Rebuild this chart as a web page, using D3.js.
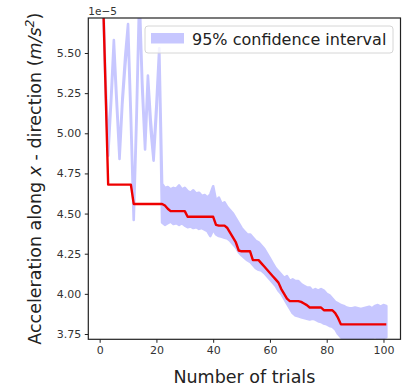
<!DOCTYPE html>
<html>
<head>
<meta charset="utf-8">
<script src="https://cdn.jsdelivr.net/npm/d3@7"></script>
<style>
  body { margin: 0; background: #fff; }
  text { font-family: "DejaVu Sans", sans-serif; }
</style>
</head>
<body>
<script>
// values in units of 1e-5 m/s^2, trial t = 1..101
const trials = d3.range(1, 102);

const best = [5.98, 5.33,
  4.68, 4.68, 4.68, 4.68, 4.68, 4.68, 4.68, 4.68, 4.68,
  4.56, 4.56, 4.56, 4.56, 4.56, 4.56, 4.56, 4.56, 4.56, 4.56, 4.56,
  4.55, 4.53, 4.515, 4.515, 4.515, 4.515, 4.515, 4.515,
  4.48, 4.48, 4.48, 4.48, 4.48, 4.48, 4.48, 4.48, 4.48, 4.48,
  4.43, 4.425, 4.425, 4.425, 4.41, 4.38, 4.35, 4.32, 4.27,
  4.265, 4.265, 4.265, 4.265, 4.21, 4.21, 4.21,
  4.19, 4.17, 4.15, 4.13, 4.11, 4.09, 4.07, 4.03, 4.0, 3.97,
  3.955, 3.955, 3.955, 3.955, 3.95, 3.94, 3.93,
  3.915, 3.915, 3.915, 3.915, 3.915, 3.898, 3.898, 3.898, 3.898,
  3.88, 3.85,
  3.81, 3.81, 3.81, 3.81, 3.81, 3.81, 3.81, 3.81, 3.81, 3.81, 3.81, 3.81, 3.81, 3.81, 3.81, 3.81, 3.81];

const upper = [6.0, 5.37, 4.92, 5.22, 5.58, 5.22, 4.88, 5.22, 5.48, 5.68,
  5.13, 4.5, 5.13, 5.88, 5.33, 4.94, 5.36, 5.08, 4.87, 5.18, 5.53,
  4.685, 4.66, 4.665, 4.65, 4.66, 4.655, 4.675, 4.65, 4.66,
  4.64, 4.63, 4.645, 4.625, 4.63, 4.61, 4.615, 4.6, 4.62, 4.67,
  4.58, 4.6, 4.56, 4.57, 4.54, 4.52, 4.5, 4.47, 4.44, 4.41,
  4.39, 4.37, 4.37, 4.35, 4.33, 4.32, 4.30, 4.28, 4.25, 4.22,
  4.19, 4.16, 4.14, 4.12, 4.1, 4.11, 4.08, 4.09, 4.08, 4.08,
  4.06, 4.05, 4.04, 4.04, 4.02, 4.03, 4.02, 4.03, 4.02, 4.0,
  3.99, 3.97, 3.95, 3.94, 3.93, 3.925, 3.915, 3.91, 3.91, 3.915,
  3.91, 3.905, 3.91, 3.915, 3.92, 3.91, 3.925, 3.93, 3.92, 3.93, 3.925];

const lower = [5.96, 5.33, 4.86, 5.18, 5.52, 5.18, 4.84, 5.18, 5.42, 5.62,
  5.07, 4.46, 5.07, 5.82, 5.27, 4.9, 5.3, 5.02, 4.83, 5.12, 5.49,
  4.445, 4.43, 4.44, 4.45, 4.435, 4.44, 4.43, 4.44, 4.425,
  4.415, 4.42, 4.41, 4.415, 4.405, 4.41, 4.4, 4.39, 4.36, 4.40,
  4.37, 4.36, 4.355, 4.35, 4.345, 4.33, 4.31, 4.29, 4.26, 4.24,
  4.225, 4.21, 4.2, 4.18, 4.16, 4.15, 4.145, 4.13, 4.11, 4.09,
  4.07, 4.05, 4.02, 4.0, 3.97, 3.94, 3.91, 3.88, 3.865, 3.86,
  3.855, 3.85, 3.845, 3.84, 3.845, 3.84, 3.83, 3.825, 3.815, 3.81,
  3.80, 3.795, 3.78, 3.75, 3.73, 3.715, 3.71, 3.705, 3.7, 3.705,
  3.71, 3.715, 3.72, 3.725, 3.72, 3.725, 3.73, 3.725, 3.72, 3.725, 3.73];

const xTicks = [0, 20, 40, 60, 80, 100];
const yTicks = [3.75, 4.00, 4.25, 4.50, 4.75, 5.00, 5.25, 5.50];

const w = 403, h = 387;
const m = {left: 88.3, right: 400.5, top: 18, bottom: 339.3};

const svg = d3.select("body")
  .append("svg")
  .attr("width", w)
  .attr("height", h);

const xScale = d3.scaleLinear()
  .domain([-4, 106])
  .range([m.left, m.right]);
const yScale = d3.scaleLinear()
  .domain([3.717, 5.718])
  .range([m.bottom, m.top]);

svg.append("clipPath")
  .attr("id", "clip")
  .append("rect")
  .attr("x", m.left)
  .attr("y", m.top)
  .attr("width", m.right - m.left)
  .attr("height", m.bottom - m.top);

const plot = svg.append("g").attr("clip-path", "url(#clip)");

// confidence band (drawn opaque inside a translucent group so the edge stroke doesn't darken)
const band = d3.area()
  .x((d, i) => xScale(trials[i]))
  .y0((d, i) => yScale(lower[i]))
  .y1((d, i) => yScale(upper[i]));

plot.append("g")
  .attr("opacity", 0.22)
  .append("path")
  .datum(upper)
  .attr("d", band)
  .attr("fill", "#0000ff")
  .attr("stroke", "#0000ff")
  .attr("stroke-width", 2.6)
  .attr("stroke-linejoin", "round");

// best value so far
const line = d3.line()
  .x((d, i) => xScale(trials[i]))
  .y(d => yScale(d));

plot.append("path")
  .datum(best)
  .attr("d", line)
  .attr("fill", "none")
  .attr("stroke", "#ee0000")
  .attr("stroke-width", 2.4)
  .attr("stroke-linejoin", "round");

// axes
const xAxis = d3.axisBottom(xScale)
  .tickValues(xTicks)
  .tickSize(3.5)
  .tickPadding(3.5)
  .tickFormat(d3.format("d"));
const yAxis = d3.axisLeft(yScale)
  .tickValues(yTicks)
  .tickSize(3.5)
  .tickPadding(3.5)
  .tickFormat(d3.format(".2f"));

const gx = svg.append("g")
  .attr("transform", "translate(0," + m.bottom + ")")
  .call(xAxis);
const gy = svg.append("g")
  .attr("transform", "translate(" + m.left + ",0)")
  .call(yAxis);

[gx, gy].forEach(g => {
  g.select(".domain").remove();
  g.selectAll(".tick line").attr("stroke", "#222").attr("stroke-width", 1);
  g.selectAll(".tick text")
    .attr("fill", "#333")
    .style("font-size", "11px")
    .style("font-family", "DejaVu Sans");
});

// frame
svg.append("rect")
  .attr("x", m.left)
  .attr("y", m.top)
  .attr("width", m.right - m.left)
  .attr("height", m.bottom - m.top)
  .attr("fill", "none")
  .attr("stroke", "#222")
  .attr("stroke-width", 1.2);

// offset text
svg.append("text")
  .attr("x", m.left)
  .attr("y", 15)
  .attr("fill", "#333")
  .style("font-size", "10.5px")
  .text("1e\u22125");

// axis labels
svg.append("text")
  .attr("x", (m.left + m.right) / 2)
  .attr("y", 383)
  .attr("text-anchor", "middle")
  .attr("fill", "#222")
  .style("font-size", "17.5px")
  .text("Number of trials");

const yl = svg.append("text")
  .attr("transform", "translate(40.5," + ((m.top + m.bottom) / 2) + ") rotate(-90)")
  .attr("text-anchor", "middle")
  .attr("fill", "#222")
  .style("font-size", "17.5px");
yl.append("tspan").text("Acceleration along ");
yl.append("tspan").attr("font-style", "italic").text("x");
yl.append("tspan").text(" - direction (");
yl.append("tspan").attr("font-style", "italic").text("m/s");
yl.append("tspan").attr("font-style", "italic").attr("dy", -7).style("font-size", "12.5px").text("2");
yl.append("tspan").attr("dy", 7).text(")");

// legend
const lg = svg.append("g");
lg.append("rect")
  .attr("x", 145)
  .attr("y", 26)
  .attr("width", 248)
  .attr("height", 27)
  .attr("rx", 3)
  .attr("fill", "#fff")
  .attr("fill-opacity", 0.8)
  .attr("stroke", "#d6d6d6")
  .attr("stroke-width", 1);
lg.append("rect")
  .attr("x", 151)
  .attr("y", 33)
  .attr("width", 33)
  .attr("height", 10.5)
  .attr("fill", "#0000ff")
  .attr("fill-opacity", 0.22);
lg.append("text")
  .attr("x", 192)
  .attr("y", 45)
  .attr("fill", "#222")
  .style("font-size", "16px")
  .text("95% confidence interval");
</script>
</body>
</html>
